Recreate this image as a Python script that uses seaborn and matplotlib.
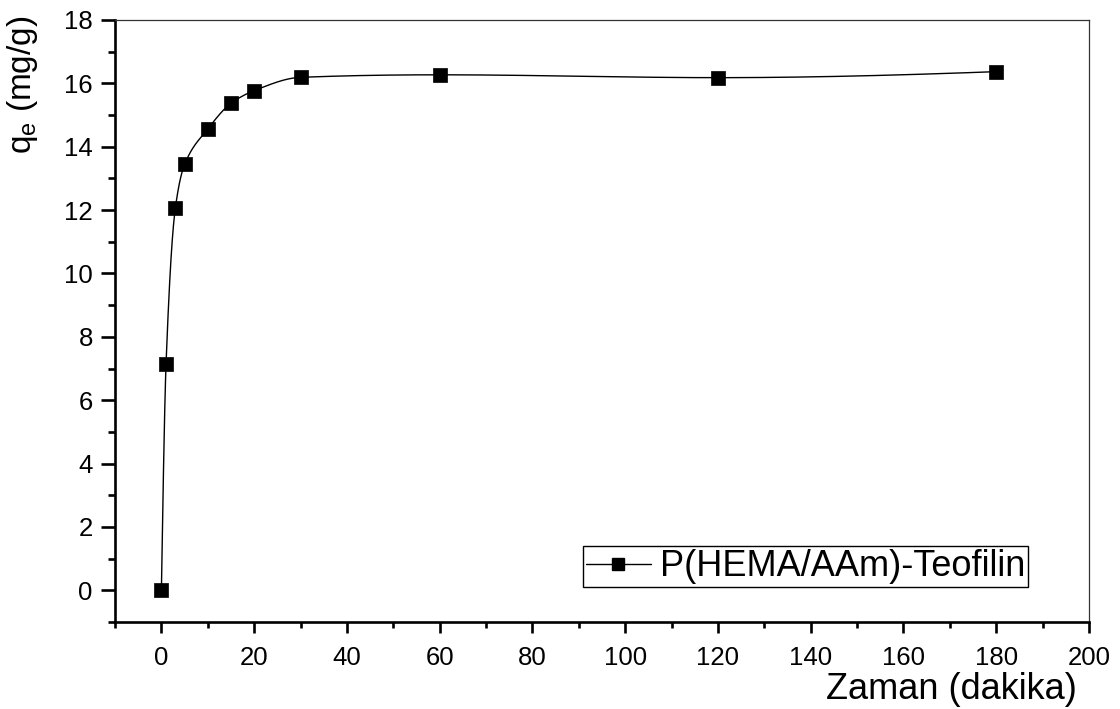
import numpy as np
import pandas as pd
import matplotlib
matplotlib.use("Agg")
import matplotlib.pyplot as plt
from matplotlib.ticker import MultipleLocator
from matplotlib.lines import Line2D
import seaborn as sns

# Adsorption kinetics data
time_min = [0, 1, 3, 5, 10, 15, 20, 30, 60, 120, 180]
qe_mg_g = [0.0, 7.13, 12.06, 13.44, 14.56, 15.37, 15.77, 16.19, 16.27, 16.18, 16.37]
series_label = "P(HEMA/AAm)-Teofilin"
x_label = "Zaman (dakika)"
y_label = "q$_e$ (mg/g)"


def smooth_curve(x, y, n=2000):
    """Shape-preserving cubic Hermite curve (Fritsch-Carlson) through (x, y)."""
    x = np.asarray(x, float)
    y = np.asarray(y, float)
    h = np.diff(x)
    d = np.diff(y) / h
    k = len(x)
    m = np.zeros(k)
    for i in range(1, k - 1):
        if d[i - 1] * d[i] > 0:
            w1 = 2 * h[i] + h[i - 1]
            w2 = h[i] + 2 * h[i - 1]
            m[i] = (w1 + w2) / (w1 / d[i - 1] + w2 / d[i])
    m[0] = ((2 * h[0] + h[1]) * d[0] - h[0] * d[1]) / (h[0] + h[1])
    if np.sign(m[0]) != np.sign(d[0]):
        m[0] = 0
    m[-1] = ((2 * h[-1] + h[-2]) * d[-1] - h[-1] * d[-2]) / (h[-1] + h[-2])
    if np.sign(m[-1]) != np.sign(d[-1]):
        m[-1] = 0
    xs = np.linspace(x[0], x[-1], n)
    idx = np.clip(np.searchsorted(x, xs) - 1, 0, k - 2)
    hh = h[idx]
    t = (xs - x[idx]) / hh
    h00 = 2 * t ** 3 - 3 * t ** 2 + 1
    h10 = t ** 3 - 2 * t ** 2 + t
    h01 = -2 * t ** 3 + 3 * t ** 2
    h11 = t ** 3 - t ** 2
    ys = h00 * y[idx] + h10 * hh * m[idx] + h01 * y[idx + 1] + h11 * hh * m[idx + 1]
    return xs, ys


sns.set_style("ticks")
plt.rcParams["font.family"] = ["Liberation Sans", "DejaVu Sans"]
plt.rcParams["mathtext.default"] = "regular"
plt.rcParams["text.color"] = "black"
plt.rcParams["axes.labelcolor"] = "black"

fig = plt.figure(figsize=(11.2, 7.09), dpi=100)
ax = fig.add_axes([0.1027, 0.1227, 0.8696, 0.8491])

df = pd.DataFrame({"t": time_min, "q": qe_mg_g})
xs, ys = smooth_curve(df["t"], df["q"])
curve = pd.DataFrame({"t": xs, "q": ys})

sns.lineplot(data=curve, x="t", y="q", ax=ax, color="black", linewidth=1.0,
             sort=False, estimator=None, legend=False)
sns.scatterplot(data=df, x="t", y="q", ax=ax, marker="s", s=115,
                color="black", edgecolor="black", linewidth=0.5,
                legend=False, zorder=3)

ax.set_xlim(-10, 200)
ax.set_ylim(-1, 18)
ax.xaxis.set_major_locator(MultipleLocator(20))
ax.xaxis.set_minor_locator(MultipleLocator(10))
ax.set_yticks(np.arange(0, 19, 2))
ax.yaxis.set_minor_locator(MultipleLocator(1))

ax.tick_params(axis="both", which="both", direction="out", width=1.9,
               colors="black", labelcolor="black", top=False, right=False)
ax.tick_params(axis="y", which="major", length=10, pad=6, labelsize=18.5)
ax.tick_params(axis="y", which="minor", length=5)
ax.tick_params(axis="x", which="major", length=8, pad=9, labelsize=18.5)
ax.tick_params(axis="x", which="minor", length=4)

for side in ("left", "bottom"):
    ax.spines[side].set_linewidth(1.9)
    ax.spines[side].set_color("black")
for side in ("top", "right"):
    ax.spines[side].set_linewidth(0.9)
    ax.spines[side].set_color("#333333")

ax.set_xlabel(x_label, fontsize=26, ha="right", color="black")
ax.xaxis.set_label_coords(0.9877, -0.083)
ax.set_ylabel(y_label, fontsize=24, ha="right", color="black")
ax.yaxis.set_label_coords(-0.077, 1.008)

handle = Line2D([], [], color="black", linewidth=1.0, marker="s",
                markersize=9, markerfacecolor="black", markeredgecolor="black")
leg = ax.legend([handle], [series_label], loc="lower left",
                bbox_to_anchor=(0.4805, 0.058), fontsize=26, frameon=True,
                fancybox=False, shadow=False, framealpha=1, edgecolor="black",
                handlelength=1.8, handletextpad=0.25, borderpad=0.08,
                borderaxespad=0)
leg.get_frame().set_linewidth(1.0)
for txt in leg.get_texts():
    txt.set_color("black")

fig.savefig("out.png", dpi=100)
